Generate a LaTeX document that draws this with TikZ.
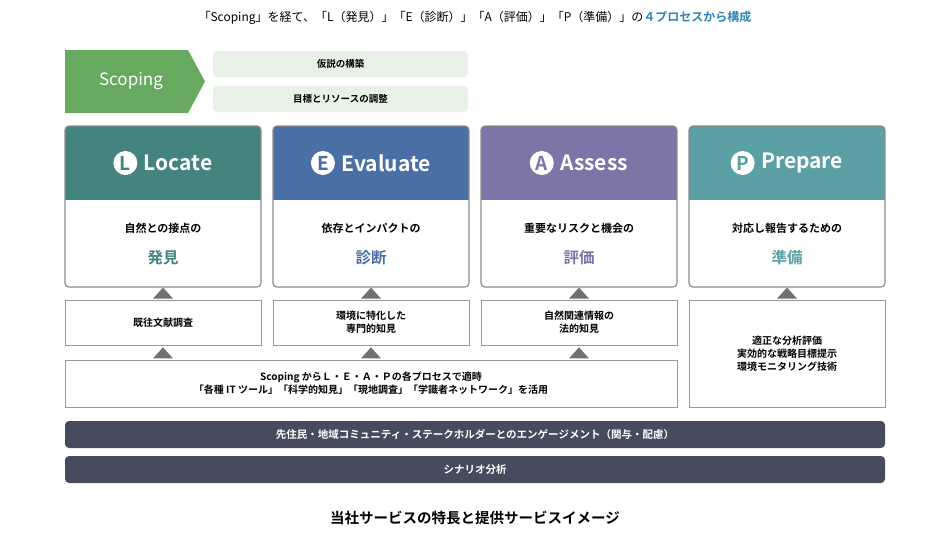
\documentclass[tikz,border=0pt]{standalone}
\usepackage{fontspec}
\setmainfont{Noto Sans CJK JP}[BoldFont={* Bold}]
\usetikzlibrary{calc}
\definecolor{cL}{HTML}{44847F}
\definecolor{cE}{HTML}{4A6FA5}
\definecolor{cA}{HTML}{7B75A8}
\definecolor{cP}{HTML}{5AA0A5}
\definecolor{scop}{HTML}{66A95F}
\definecolor{lgreen}{HTML}{E8F1E6}
\definecolor{darkbar}{HTML}{464C5E}
\definecolor{tri}{HTML}{707070}
\definecolor{ttl}{HTML}{2E86B8}
\begin{document}
\begin{tikzpicture}[x=1pt,y=-1pt,
  card/.style={draw=gray!90,line width=1.2pt,rounded corners=4pt},
  sub/.style={draw=gray!80,line width=0.8pt,fill=white,font=\bfseries\fontsize{10}{13}\selectfont,align=center},
  bar/.style={fill=darkbar,rounded corners=4pt,text=white,font=\bfseries\fontsize{10.5}{13}\selectfont},
  letter/.style={circle,fill=white,inner sep=0pt,minimum size=24pt,font=\bfseries\fontsize{19}{20}\selectfont}]
\useasboundingbox (0,0) rectangle (950,533);
\node (title) at (475,18) {\fontsize{12}{14}\selectfont 「Scoping」を経て、「L（発見）」「E（診断）」「A（評価）」「P（準備）」の\textcolor{ttl}{\bfseries ４プロセスから構成}};
% scoping
\fill[scop] (65,50) -- (188,50) -- (205,81.5) -- (188,113) -- (65,113) -- cycle;
\node[text=white,font=\fontsize{17}{20}\selectfont] (scop) at (131,81.5) {Scoping};
\node[fill=lgreen,rounded corners=4pt,minimum width=255pt,minimum height=26pt,font=\bfseries\fontsize{9.5}{12}\selectfont] (h1) at (340.5,64) {仮説の構築};
\node[fill=lgreen,rounded corners=4pt,minimum width=255pt,minimum height=26pt,font=\bfseries\fontsize{9.5}{12}\selectfont] (h2) at (340.5,99) {目標とリソースの調整};
% cards
\foreach \k/\x/\lt/\word/\la/\lb in {L/65/L/Locate/自然との接点の/発見, E/273/E/Evaluate/依存とインパクトの/診断, A/481/A/Assess/重要なリスクと機会の/評価, P/689/P/Prepare/対応し報告するための/準備}{
  \begin{scope}
  \clip[rounded corners=4pt] (\x,126) rectangle ++(196,161);
  \fill[c\k] (\x,126) rectangle ++(196,74);
  \fill[white] (\x,200) rectangle ++(196,87);
  \end{scope}
  \draw[card] (\x,126) rectangle ++(196,161);
  \node[text=white,font=\bfseries\fontsize{21}{24}\selectfont,inner sep=0pt] (w\k) at (\x+98+15,163) {\word};
  \node[letter,text=c\k,anchor=east] (let\k) at ($(w\k.west)+(-6,0)$) {\lt};
  \node[font=\bfseries\fontsize{11}{13}\selectfont] (la\k) at (\x+98,228) {\la};
  \node[font=\bfseries\fontsize{15.5}{18}\selectfont,text=c\k] (lb\k) at (\x+98,258) {\lb};
}
% subboxes
\node[sub,minimum width=196pt,minimum height=45pt] (sL) at (163,322.5) {既往文献調査};
\node[sub,minimum width=196pt,minimum height=45pt] (sE) at (371,322.5) {環境に特化した\\専門的知見};
\node[sub,minimum width=196pt,minimum height=45pt] (sA) at (579,322.5) {自然関連情報の\\法的知見};
\node[sub,minimum width=196pt,minimum height=107pt] (sP) at (787,353.5) {適正な分析評価\\実効的な戦略目標提示\\環境モニタリング技術};
\node[sub,minimum width=612pt,minimum height=47pt] (base) at (371,383.5) {Scoping からＬ・Ｅ・Ａ・Ｐの各プロセスで適時\\「各種 IT ツール」「科学的知見」「現地調査」「学識者ネットワーク」を活用};
% triangles
\foreach \n in {sL,sE,sA,sP}{
  \fill[tri] ($(\n.north)+(-10,-1)$) -- ($(\n.north)+(0,-12)$) -- ($(\n.north)+(10,-1)$) -- cycle;}
\foreach \n in {sL,sE,sA}{
  \fill[tri] ($(\n.south)+(-10,13)$) -- ($(\n.south)+(0,2)$) -- ($(\n.south)+(10,13)$) -- cycle;}
% bars
\node[bar,minimum width=820pt,minimum height=27pt] (b1) at (475,434.5) {先住民・地域コミュニティ・ステークホルダーとのエンゲージメント（関与・配慮）};
\node[bar,minimum width=820pt,minimum height=27pt] (b2) at (475,469.5) {シナリオ分析};
\node[font=\bfseries\fontsize{14.5}{17}\selectfont] (cap) at (475,518) {当社サービスの特長と提供サービスイメージ};
\end{tikzpicture}
\end{document}
